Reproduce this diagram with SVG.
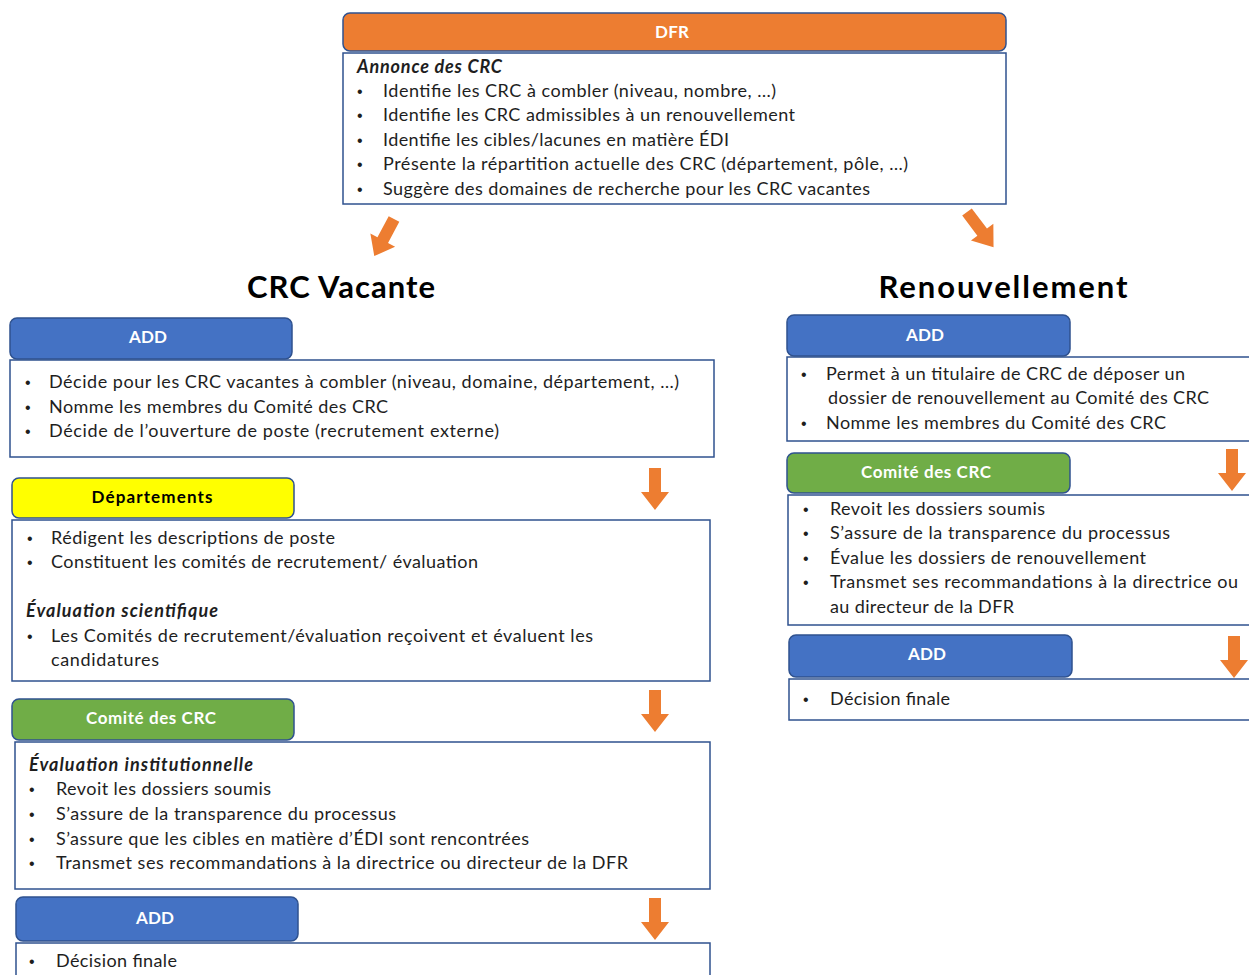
<svg xmlns="http://www.w3.org/2000/svg" width="1249" height="975" viewBox="0 0 1249 975">
<style>
.hdr{stroke:#2F528F;stroke-width:1.5}
.body{fill:#fff;stroke:#2F528F;stroke-width:1.5}
.t{font-family:Lato,"Liberation Sans",sans-serif;font-size:18px;fill:#1e1e1e}
.bi{font-family:Lato,"Liberation Sans",sans-serif;font-size:18px;font-weight:bold;font-style:italic;fill:#1e1e1e}
.h{font-family:Lato,"Liberation Sans",sans-serif;font-size:17px;font-weight:bold;fill:#fff;text-anchor:middle}
.hk{font-family:Lato,"Liberation Sans",sans-serif;font-size:17px;font-weight:bold;fill:#000;text-anchor:middle}
.title{font-family:Lato,"Liberation Sans",sans-serif;font-size:31px;font-weight:bold;fill:#000;text-anchor:middle}
.b{font-family:"Liberation Sans",sans-serif;font-size:16px;fill:#1e1e1e}
.arr{fill:#ED7D31}
</style>
<defs>
<path id="dn" d="M-6,0 H6 V24 H14 L0,42 L-14,24 H-6 Z"/>
</defs>
<rect width="1249" height="975" fill="#fff"/>

<g id="dfr">
<rect class="hdr" x="343" y="13" width="663" height="38" rx="7" fill="#ED7D31"/>
<text class="h" x="672" y="38" textLength="34">DFR</text>
<rect class="body" x="343" y="53" width="663" height="151"/>
<text class="bi" x="357" y="73" textLength="145">Annonce des CRC</text>
<text class="b" x="357" y="97">•</text><text class="t" x="383" y="97" textLength="393">Identifie les CRC à combler (niveau, nombre, …)</text>
<text class="b" x="357" y="121">•</text><text class="t" x="383" y="121" textLength="412">Identifie les CRC admissibles à un renouvellement</text>
<text class="b" x="357" y="146">•</text><text class="t" x="383" y="146" textLength="346">Identifie les cibles/lacunes en matière ÉDI</text>
<text class="b" x="357" y="170">•</text><text class="t" x="383" y="170" textLength="525">Présente la répartition actuelle des CRC (département, pôle, …)</text>
<text class="b" x="357" y="195">•</text><text class="t" x="383" y="195" textLength="487">Suggère des domaines de recherche pour les CRC vacantes</text>
</g>

<g id="titles">
<text class="title" x="341" y="298" textLength="188">CRC Vacante</text>
<text class="title" x="1003" y="298" textLength="249">Renouvellement</text>
</g>

<g id="left-add">
<rect class="hdr" x="10" y="318" width="282" height="41" rx="7" fill="#4472C4"/>
<text class="h" x="148" y="343" textLength="38">ADD</text>
<rect class="body" x="10" y="360" width="704" height="97"/>
<text class="b" x="25" y="388">•</text><text class="t" x="49" y="388" textLength="630">Décide pour les CRC vacantes à combler (niveau, domaine, département, …)</text>
<text class="b" x="25" y="413">•</text><text class="t" x="49" y="413" textLength="339">Nomme les membres du Comité des CRC</text>
<text class="b" x="25" y="437">•</text><text class="t" x="49" y="437" textLength="450">Décide de l’ouverture de poste (recrutement externe)</text>
</g>

<g id="left-dept">
<rect class="hdr" x="12" y="478" width="282" height="40" rx="7" fill="#FFFF00"/>
<text class="hk" x="152" y="503" textLength="121">Départements</text>
<rect class="body" x="12" y="520" width="698" height="161"/>
<text class="b" x="27" y="544">•</text><text class="t" x="51" y="544" textLength="284">Rédigent les descriptions de poste</text>
<text class="b" x="27" y="568">•</text><text class="t" x="51" y="568" textLength="427">Constituent les comités de recrutement/ évaluation</text>
<text class="bi" x="26" y="617" textLength="192">Évaluation scientifique</text>
<text class="b" x="27" y="642">•</text><text class="t" x="51" y="642" textLength="542">Les Comités de recrutement/évaluation reçoivent et évaluent les</text>
<text class="t" x="51" y="666" textLength="108">candidatures</text>
</g>

<g id="left-comite">
<rect class="hdr" x="12" y="699" width="282" height="41" rx="7" fill="#70AD47"/>
<text class="h" x="151" y="724" textLength="130">Comité des CRC</text>
<rect class="body" x="15" y="742" width="695" height="147"/>
<text class="bi" x="29" y="771" textLength="224">Évaluation institutionnelle</text>
<text class="b" x="29" y="795">•</text><text class="t" x="56" y="795" textLength="215">Revoit les dossiers soumis</text>
<text class="b" x="29" y="820">•</text><text class="t" x="56" y="820" textLength="340">S’assure de la transparence du processus</text>
<text class="b" x="29" y="845">•</text><text class="t" x="56" y="845" textLength="473">S’assure que les cibles en matière d’ÉDI sont rencontrées</text>
<text class="b" x="29" y="869">•</text><text class="t" x="56" y="869" textLength="572">Transmet ses recommandations à la directrice ou directeur de la DFR</text>
</g>

<g id="left-add2">
<rect class="hdr" x="16" y="897" width="282" height="44" rx="7" fill="#4472C4"/>
<text class="h" x="155" y="924" textLength="38">ADD</text>
<rect class="body" x="16" y="943" width="694" height="40"/>
<text class="b" x="29" y="967">•</text><text class="t" x="56" y="967" textLength="121">Décision finale</text>
</g>

<g id="right-add">
<rect class="hdr" x="787" y="315" width="283" height="41" rx="7" fill="#4472C4"/>
<text class="h" x="925" y="341" textLength="38">ADD</text>
<rect class="body" x="787" y="357" width="470" height="84"/>
<text class="b" x="801" y="380">•</text><text class="t" x="826" y="380" textLength="359">Permet à un titulaire de CRC de déposer un</text>
<text class="t" x="828" y="404" textLength="381">dossier de renouvellement au Comité des CRC</text>
<text class="b" x="801" y="429">•</text><text class="t" x="826" y="429" textLength="340">Nomme les membres du Comité des CRC</text>
</g>

<g id="right-comite">
<rect class="hdr" x="787" y="453" width="283" height="40" rx="7" fill="#70AD47"/>
<text class="h" x="926" y="478" textLength="130">Comité des CRC</text>
<rect class="body" x="788" y="495" width="470" height="130"/>
<text class="b" x="803" y="515">•</text><text class="t" x="830" y="515" textLength="215">Revoit les dossiers soumis</text>
<text class="b" x="803" y="539">•</text><text class="t" x="830" y="539" textLength="340">S’assure de la transparence du processus</text>
<text class="b" x="803" y="564">•</text><text class="t" x="830" y="564" textLength="316">Évalue les dossiers de renouvellement</text>
<text class="b" x="803" y="588">•</text><text class="t" x="830" y="588" textLength="408">Transmet ses recommandations à la directrice ou</text>
<text class="t" x="830" y="613" textLength="184">au directeur de la DFR</text>
</g>

<g id="right-add2">
<rect class="hdr" x="789" y="635" width="283" height="42" rx="7" fill="#4472C4"/>
<text class="h" x="927" y="660" textLength="38">ADD</text>
<rect class="body" x="789" y="679" width="470" height="41"/>
<text class="b" x="803" y="705">•</text><text class="t" x="830" y="705" textLength="120">Décision finale</text>
</g>

<g id="connectors">
<use href="#dn" class="arr" transform="translate(394,219) rotate(28)"/>
<use href="#dn" class="arr" transform="translate(967,212) rotate(-37) scale(1,1.05)"/>
<use href="#dn" class="arr" transform="translate(655,468)"/>
<use href="#dn" class="arr" transform="translate(655,690)"/>
<use href="#dn" class="arr" transform="translate(655,898)"/>
<use href="#dn" class="arr" transform="translate(1232,449)"/>
<use href="#dn" class="arr" transform="translate(1234,636)"/>
</g>
</svg>
